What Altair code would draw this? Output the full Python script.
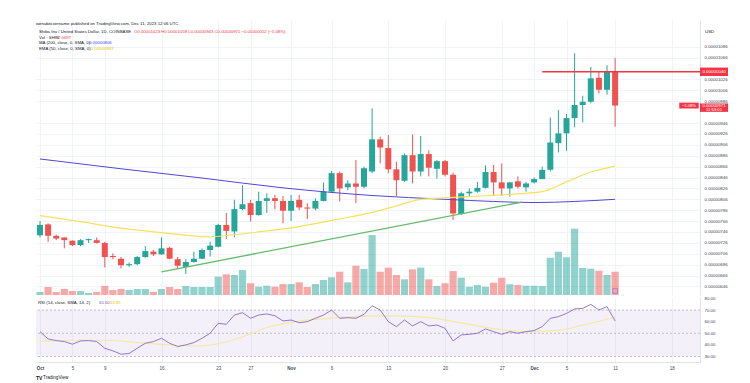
import altair as alt
import pandas as pd
import numpy as np

# ---------------- data (prices in units of 1e-8 USD) ----------------
dates = pd.date_range("2023-10-01", periods=72, freq="D")
opens = [740,760,739,736,730,722,731,731,726,702,
         697,685,687,700,710,705,717,696,682,691,
         697,713,719,759,747,788,799,777,803,808,
         803,785,805,791,789,803,820,854,828,835,
         829,857,916,900,861,840,887,857,889,862,
         876,851,779,817,820,827,856,837,826,839,
         828,837,843,860,909,927,955,979,985,1029,
         1007,1040]
highs = [766,762,741,736,731,733,734,736,728,707,
         700,690,702,720,713,736,719,700,696,710,
         716,728,761,781,805,832,805,820,817,814,
         812,814,814,799,808,837,858,857,841,878,
         866,973,921,924,875,890,925,922,896,878,
         878,855,820,826,838,868,869,872,838,848,
         838,846,866,956,970,963,1074,996,1049,1040,
         1052,1065]
lows = [736,728,731,716,720,720,726,725,681,696,
        679,682,685,699,702,704,696,679,669,690,
        696,701,718,733,736,786,765,776,781,788,
        762,766,786,770,786,802,818,802,823,799,
        826,854,872,854,812,838,835,848,848,844,
        848,768,777,811,818,826,812,812,811,826,
        820,835,843,857,892,895,938,947,982,1000,
        998,939]
closes = [759,739,734,731,722,731,733,726,700,700,
          685,687,700,711,705,716,697,684,691,697,
          713,721,759,748,788,797,777,803,808,803,
          785,803,791,789,803,820,854,826,835,829,
          863,916,901,861,841,887,857,889,864,876,
          851,780,817,820,827,856,837,826,837,829,
          835,843,860,910,927,955,979,985,1028,1007,
          1040,978]
volumes_t = [0.27,0.71,0.27,0.53,0.35,0.35,0.18,0.27,0.80,0.44,
             0.53,0.44,0.53,0.53,0.27,0.53,0.71,0.53,0.80,0.71,
             0.71,0.71,1.62,1.83,1.77,2.21,1.04,0.73,0.82,0.73,
             0.97,0.97,1.12,0.71,0.97,1.33,1.57,2.06,1.12,2.59,
             2.30,5.31,2.06,2.42,1.77,1.39,2.27,2.42,1.39,0.80,
             1.04,2.12,1.53,0.73,0.88,0.73,1.09,1.53,0.95,0.88,
             0.82,0.82,0.80,3.30,3.83,3.34,5.87,2.39,2.33,2.15,
             1.77,2.06]
rsi_vals = [51.4,45.1,43.7,42.9,40.6,43.4,43.7,42.9,37.1,34.9,
            32.0,32.6,37.1,41.4,42.9,45.7,41.4,38.6,40.0,42.0,
            45.7,50.0,58.6,57.7,65.7,67.7,62.9,65.7,66.6,65.1,
            60.6,61.4,59.1,60.0,62.9,65.7,70.0,62.9,63.4,62.9,
            66.3,73.7,70.0,60.0,55.7,61.4,56.3,60.0,56.3,57.1,
            54.3,43.4,48.6,49.1,50.0,53.7,51.4,49.1,51.4,50.0,
            51.4,52.3,55.7,62.9,64.3,67.1,70.9,71.4,74.9,70.0,
            72.9,60.6]

# sparse readings of indicator lines (day index, value)
ma200_days = [0, 10, 20, 30, 41, 50, 56, 61, 66, 71]
ma200_vals = [880, 862, 845, 827, 813, 806, 802, 800, 802, 806]
ema50_days = [0, 5, 10, 15, 21, 24, 28, 32, 37, 41, 44, 47, 53, 59, 62, 65, 68, 71]
ema50_vals = [776, 765, 753, 745, 737, 741, 748, 756, 770, 782, 794, 806, 811, 816, 820, 838, 856, 867]
rsima_days = [0, 4, 8, 12, 16, 19, 22, 25, 28, 32, 36, 40, 44, 48, 52, 56, 60, 64, 67, 71]
rsima_vals = [43, 44, 44, 42, 40, 39, 41, 47, 55, 60.5, 63, 64.8, 65, 63.5, 59, 54, 51.5, 52.5, 57, 63.8]
trend_days = [15, 59.5]
trend_vals = [673, 801]
hline_day = [62]
hline_val = [1040]

tick_days = [0, 4, 8, 15, 22, 26, 31, 36, 43, 50, 57, 61, 65, 71, 78]
tick_labels = ['Oct', '5', '9', '16', '23', '27', 'Nov', '6', '13', '20', '27', 'Dec', '5', '11', '18']
price_ticks = [646, 666, 686, 706, 726, 746, 766, 786, 806, 826, 846, 866, 886, 906,
               926, 946, 986, 1006, 1026, 1066, 1086]
rsi_ticks = [30, 40, 50, 60, 70, 80]

# ---------------- frames ----------------
df = pd.DataFrame(dict(date=dates, open=opens, high=highs, low=lows,
                       close=closes, vol=volumes_t, rsi=rsi_vals))
df["day"] = (df["date"] - dates[0]).dt.days
df["dir"] = np.where(df["close"] >= df["open"], "up", "down")

ma200_df = pd.DataFrame({"day": ma200_days, "v": ma200_vals})
ema_df = pd.DataFrame({"day": ema50_days, "v": ema50_vals})
rsima_df = pd.DataFrame({"day": rsima_days, "v": rsima_vals})
trend_df = pd.DataFrame({"day": trend_days, "v": trend_vals})
hline_df = pd.DataFrame({"day": hline_day, "v": hline_val})

W, H1, H2 = 664, 275, 65
XDOM = [-0.494, 81.48]
PDOM = [630.4, 1135.0]
RDOM = [25.3, 81.2]
FONT = "Liberation Sans"
TXT = "#131722"
AX = "#434651"

xscale = alt.Scale(domain=XDOM, nice=False, zero=False, padding=0)
pscale = alt.Scale(domain=PDOM, nice=False, zero=False)
rscale = alt.Scale(domain=RDOM, nice=False, zero=False)
vscale = alt.Scale(domain=[0, 24.34], nice=False, zero=True)
cscale = alt.Scale(domain=["up", "down"], range=["#26a69a", "#ef5350"])

xgrid_axis = alt.Axis(values=tick_days, labels=False, ticks=False, domain=False,
                      grid=True, gridColor="#f0f3fa", gridWidth=1, title=None)
label_expr = "[" + ",".join("'%s'" % t for t in tick_labels) + "][indexof([" + \
    ",".join(str(d) for d in tick_days) + "], datum.value)]"
xlab_axis = alt.Axis(values=tick_days, labelExpr=label_expr, ticks=False, domain=True,
                     domainColor="#e0e3eb", grid=True, gridColor="#f0f3fa", title=None,
                     labelFontSize=4.5, labelColor=AX, labelFont=FONT, labelPadding=3,
                     labelFontWeight={"condition": {"test": "indexof([0,31,61], datum.value) >= 0",
                                                    "value": "bold"}, "value": "normal"})
price_axis = alt.Axis(orient="right", values=price_ticks,
                      labelExpr="format(datum.value*1e-8, '.8f')", ticks=False,
                      domain=True, domainColor="#e0e3eb", grid=True, gridColor="#f0f3fa",
                      labelFontSize=4.4, labelColor=AX, labelFont=FONT, labelPadding=4,
                      title=None)
rsi_axis = alt.Axis(orient="right", values=rsi_ticks, format=".2f", ticks=False,
                    domain=True, domainColor="#e0e3eb", grid=False,
                    labelFontSize=4.4, labelColor=AX, labelFont=FONT, labelPadding=4,
                    title=None)

X = lambda f: alt.X(f, scale=xscale, axis=xgrid_axis)
Y = lambda f: alt.Y(f, scale=pscale, axis=price_axis)

one = pd.DataFrame({"a": [0]})


def label(text, x, y, color=TXT, size=4.3, weight="normal", align="left"):
    return alt.Chart(one).mark_text(text=text, align=align, baseline="middle",
                                    fontSize=size, fontWeight=weight, color=color,
                                    font=FONT).encode(x=alt.value(x), y=alt.value(y))


base = alt.Chart(df)

volume = base.mark_bar(size=7.2, opacity=0.5).encode(
    x=X("day:Q"),
    y=alt.Y("vol:Q", scale=vscale, axis=None),
    color=alt.Color("dir:N", scale=cscale, legend=None))

wicks = base.mark_rule(strokeWidth=1).encode(
    x=X("day:Q"), y=Y("low:Q"), y2="high:Q",
    color=alt.Color("dir:N", scale=cscale, legend=None))
bodies = base.mark_bar(size=6).encode(
    x=X("day:Q"), y=Y("open:Q"), y2="close:Q",
    color=alt.Color("dir:N", scale=cscale, legend=None))

ma200 = alt.Chart(ma200_df).mark_line(color="#5048d4", strokeWidth=1, interpolate="monotone").encode(
    x=X("day:Q"), y=Y("v:Q"))
ema50 = alt.Chart(ema_df).mark_line(color="#f7e25a", strokeWidth=1.2, interpolate="monotone").encode(
    x=X("day:Q"), y=Y("v:Q"))
trend = alt.Chart(trend_df).mark_line(color="#66bb6a", strokeWidth=1.3).encode(
    x=X("day:Q"), y=Y("v:Q"))
hline = alt.Chart(hline_df).mark_rule(color="#f23645", strokeWidth=1.5).encode(
    x=X("day:Q"), x2=alt.value(W), y=Y("v:Q"))

tag_shape = "M-1,-0.3L1,-0.3L1,0.3L-1,0.3Z"
tag_shape2 = "M-1,-0.15L1,-0.15L1,0.45L-1,0.45Z"
tag1 = alt.Chart(hline_df).mark_point(shape=tag_shape, filled=True, size=784, opacity=1,
                                      color="#f23645").encode(x=alt.value(W + 14), y=Y("v:Q"))
tag1t = alt.Chart(hline_df).mark_text(text="0.00001040", color="white", fontSize=4.4,
                                      font=FONT, align="center", baseline="middle").encode(
    x=alt.value(W + 14), y=Y("v:Q"))
last_df = df.tail(1)
tag2 = alt.Chart(last_df).mark_point(shape=tag_shape2, filled=True, size=784, opacity=1,
                                     color="#f23645").encode(x=alt.value(W + 14), y=Y("close:Q"))
tag2t = alt.Chart(last_df).mark_text(text="0.00000971", color="white", fontSize=4.4, dy=0.3,
                                     font=FONT, align="center", baseline="middle").encode(
    x=alt.value(W + 14), y=Y("close:Q"))
tag2u = alt.Chart(last_df).mark_text(text="11:53:01", color="white", fontSize=4.2, dy=4.6,
                                     font=FONT, align="center", baseline="middle").encode(
    x=alt.value(W + 14), y=Y("close:Q"))
tag3 = alt.Chart(last_df).mark_point(shape=tag_shape, filled=True, size=380, opacity=1,
                                     color="#f23645").encode(x=alt.value(W - 11), y=Y("close:Q"))
tag3t = alt.Chart(last_df).mark_text(text="−5.08%", color="white", fontSize=4,
                                     font=FONT, align="center", baseline="middle").encode(
    x=alt.value(W - 11), y=Y("close:Q"))
icon = alt.Chart(last_df).mark_point(shape="square", size=22, filled=False, strokeWidth=0.7,
                                     color="#7e57c2").encode(x=X("day:Q"), y=alt.value(H1 - 4))

header = [
    label("wenabitcoinname published on TradingView.com, Dec 11, 2023 12:06 UTC", 0, 4),
    label("Shiba Inu / United States Dollar, 1D, COINBASE", 3, 12.3),
    label("O0.00001023  H0.00001058  L0.00000943  C0.00000971  −0.00000052 (−5.08%)", 98, 12.3,
          color="#f23645"),
    label("Vol · SHIB", 3, 17.7),
    label("2.069T", 22, 17.7, color="#f23645"),
    label("MA (200, close, 0, SMA, 0)", 3, 23.3),
    label("0.00000806", 53, 23.3, color="#3d3dff"),
    label("EMA (50, close, 0, SMA, 0)", 3, 28.7),
    label("0.00000867", 55, 28.7, color="#e6c800"),
    label("USD", W + 5, 12, color=TXT, size=4.4),
]

price_layer = alt.layer(wicks, bodies, ma200, ema50, trend, hline,
                        tag1, tag1t, tag2, tag2t, tag2u, tag3, tag3t, icon, *header)
main = alt.layer(volume, price_layer).resolve_scale(y="independent").properties(width=W, height=H1)

# ---------------- RSI pane ----------------
XR = lambda f: alt.X(f, scale=xscale, axis=xlab_axis)
YR = lambda f: alt.Y(f, scale=rscale, axis=rsi_axis)

band_df = pd.DataFrame({"lo": [30], "hi": [70]})
lvl_df = pd.DataFrame({"v": [30, 50, 70]})
band = alt.Chart(band_df).mark_rect(color="#7e57c2", opacity=0.09).encode(
    x=alt.value(0), x2=alt.value(W), y=YR("lo:Q"), y2="hi:Q")
levels = alt.Chart(lvl_df).mark_rule(color="#9598a1", strokeWidth=0.6, strokeDash=[2, 2]).encode(
    y=YR("v:Q"))
rsi_ma = alt.Chart(rsima_df).mark_line(color="#f3e9a6", strokeWidth=1.2, interpolate="monotone").encode(
    x=XR("day:Q"), y=YR("v:Q"))
rsi_line = base.mark_line(color="#7e57c2", strokeWidth=0.8).encode(x=XR("day:Q"), y=YR("rsi:Q"))

rsi_texts = [
    label("RSI (14, close, SMA, 14, 2)", 2, 6),
    label("60.60", 63, 6, color="#7e57c2"),
    label("63.85", 74, 6, color="#e6c800"),
    label("TV", 0, 81, color=TXT, size=5, weight="bold"),
    label("TradingView", 7, 81, color=TXT, size=4.6),
]

rsi_chart = alt.layer(band, levels, rsi_ma, rsi_line, *rsi_texts).properties(width=W, height=H2)

chart = alt.vconcat(main, rsi_chart, spacing=0).properties(
    padding={"left": 27, "top": 12, "right": 5, "bottom": 3},
    background="white",
).configure_view(stroke=None)

chart.save("out.html", embed_options={"renderer": "svg", "actions": False})
